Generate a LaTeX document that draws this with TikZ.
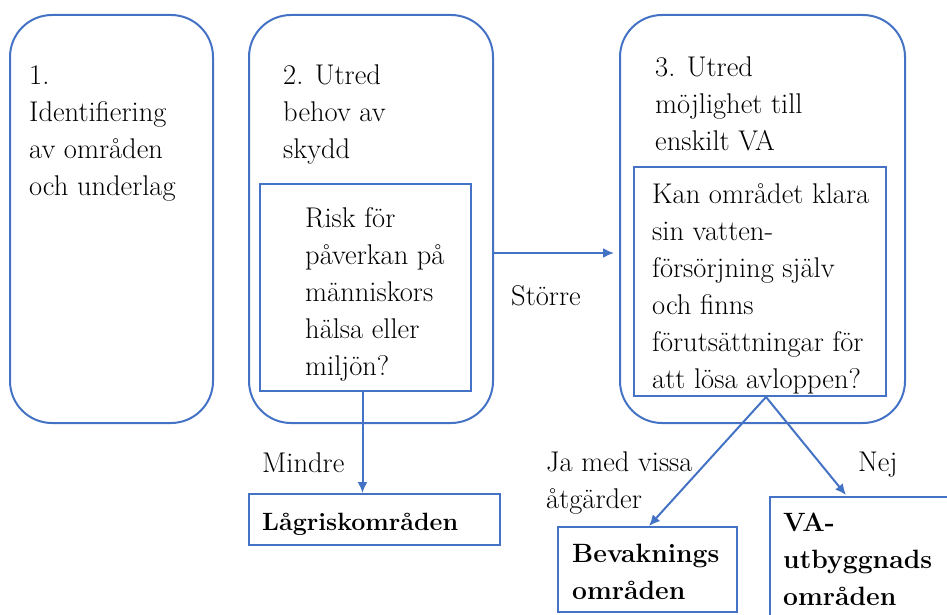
\documentclass[tikz,border=0pt]{standalone}
\usepackage{fontspec}
\usetikzlibrary{arrows.meta,calc}
\definecolor{bl}{HTML}{4472C4}
\definecolor{tx}{HTML}{000000}
\tikzset{
  frame/.style={draw=bl, line width=2pt, rectangle, inner sep=0pt},
  rbox/.style={frame, rounded corners=42pt},
  txt/.style={anchor=north west, align=left, inner sep=0pt, text=tx, font=\fontsize{28.5}{37}\selectfont},
  btxt/.style={txt, font=\fontsize{26.5}{37}\selectfont\bfseries},
  arr/.style={draw=bl, line width=2pt, -{Latex[length=11pt,width=10pt]}}
}
\begin{document}
\begin{tikzpicture}[x=1pt,y=-1pt]
\useasboundingbox (0,0) rectangle (947,615);
% outer rounded boxes
\node[rbox, minimum width=203pt, minimum height=408pt] (b1) at (111.5,219) {};
\node[rbox, minimum width=244pt, minimum height=408pt] (b2) at (371,219) {};
\node[rbox, minimum width=285pt, minimum height=408pt] (b3) at (762.5,219) {};
% inner boxes
\node[frame, minimum width=211pt, minimum height=207pt] (i2) at (365.5,287.5) {};
\node[frame, minimum width=252pt, minimum height=229pt] (i3) at (760,281.5) {};
% result boxes
\node[frame, minimum width=251pt, minimum height=51pt] (r1) at (374,519.5) {};
\node[frame, minimum width=179pt, minimum height=85pt] (r2) at (647.5,569.5) {};
\node[frame, minimum width=200pt, minimum height=140pt] (r3) at (870,567) {};
% texts
\node[txt] (t1) at (29,58.1) {\strut 1.\\Identifiering\\av områden\\och underlag};
\node[txt] (t2) at (283,58.1) {\strut 2. Utred\\behov av\\skydd};
\node[txt] (t2i) at (305,201.1) {\strut Risk för\\påverkan på\\människors\\hälsa eller\\miljön?};
\node[txt] (t3) at (655,50.1) {\strut 3. Utred\\möjlighet till\\enskilt VA};
\node[txt] (t3i) at (652,177.1) {\strut Kan området klara\\sin vatten-\\försörjning själv\\och finns\\förutsättningar för\\att lösa avloppen?};
\node[btxt, font=\fontsize{25}{37}\selectfont\bfseries] (tr1) at (262,504.1) {\strut Lågriskområden};
\node[btxt] (tr2) at (572,536.1) {\strut Bevaknings\\områden};
\node[btxt] (tr3) at (783,505.1) {\strut VA-\\utbyggnads\\områden};
% labels
\node[txt] (ls) at (511,279.1) {\strut Större};
\node[txt] (lm) at (262,446.1) {\strut Mindre};
\node[txt] (lj) at (546,445.1) {\strut Ja med vissa\\åtgärder};
\node[txt] (ln) at (858,445.1) {\strut Nej};
% connectors
\coordinate (h) at (0,253);
\coordinate (v) at (362.5,0);
\coordinate (d) at (766,0);
\draw[arr, shorten >=5pt] (b2.east |- h) -- (b3.west |- h);
\draw[arr] (i2.south -| v) -- (r1.north -| v);
\draw[arr] (i3.south -| d) -- ($(r2.north west)+(92,0)$);
\draw[arr] (i3.south -| d) -- ($(r3.north west)+(77,-1)$);
\end{tikzpicture}
\end{document}
